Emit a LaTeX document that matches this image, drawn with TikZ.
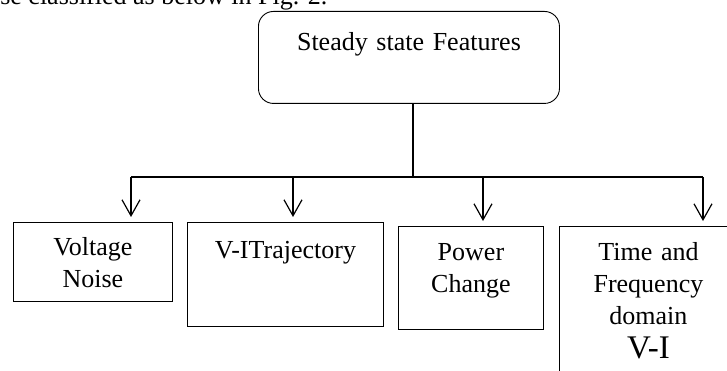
\documentclass[tikz,border=0pt]{standalone}
\usepackage{fontspec}
\setmainfont{Liberation Serif}
\usetikzlibrary{arrows.meta, positioning}

\begin{document}
\begin{tikzpicture}[x=1pt, y=-1pt, semithick]
	\tikzstyle{feature} = [draw, line width=0.9pt, rectangle, inner sep=0pt, align=center, anchor=north west, font={\fontsize{26}{32}\selectfont}]
	\tikzstyle{root} = [feature, rounded corners=15pt]
	\tikzstyle{branch} = [black, line width=1.2pt]
	\tikzstyle{branchArrow} = [branch, -{Straight Barb[length=16pt, width=18pt]}, shorten >=5pt]

	\useasboundingbox (0,0) rectangle (727,371);

	\node[anchor=base west, inner sep=0pt, font={\fontsize{26}{32}\selectfont}] (caption) at (0,5) {se classified as below in Fig. 2.};

	\node[root, text width=301pt, text height=39pt, text depth=53pt] (ssf) at (258,11) {Steady state Features};
	\node[feature, text width=159pt, text height=33pt, text depth=46pt] (vn) at (13,222) {Voltage\\Noise};
	\node[feature, text width=196pt, text height=36pt, text depth=68pt] (vit) at (187,222) {V-ITrajectory};
	\node[feature, text width=145pt, text height=34pt, text depth=69pt] (pc) at (398,226) {Power\\Change};
	\node[feature, text width=178pt, text height=34pt, text depth=150pt] (tfd) at (559,226) {Time and\\Frequency\\domain\\[2pt]{\fontsize{33}{36}\selectfont V-I}};

	\coordinate (hub) at (413,177);
	\coordinate (toVn) at (131,177);
	\coordinate (toVit) at (293,177);
	\coordinate (toPc) at (483,177);
	\coordinate (toTfd) at (703,177);

	\draw[branch] (ssf.south -| hub) -- (hub);
	\draw[branch] (toVn) -- (toTfd);
	\foreach \from/\to in {toVn/vn, toVit/vit, toPc/pc, toTfd/tfd}
		\draw[branchArrow] (\from) -- (\from |- \to.north);
\end{tikzpicture}
\end{document}
